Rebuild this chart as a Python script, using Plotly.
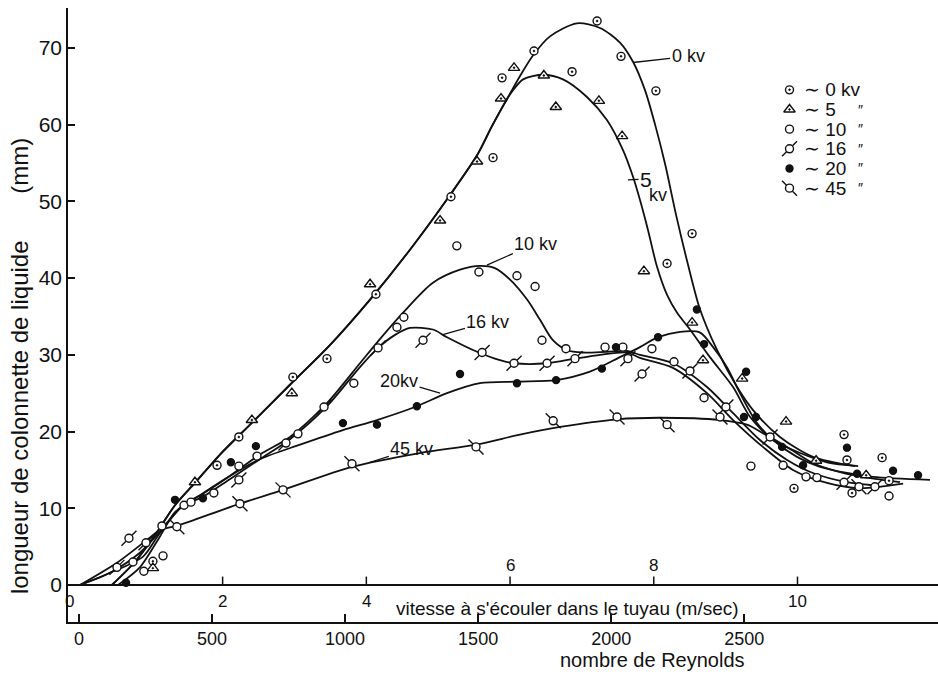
import plotly.graph_objects as go

FONT = "Liberation Sans"
INK = "#111111"

# ---------------- axes ----------------
RE_TICKS = [0, 500, 1000, 1500, 2000, 2500]
MM_TICKS = [0, 10, 20, 30, 40, 50, 60, 70]
VEL_TICKS = [0, 2, 4, 6, 8, 10]
VEL_LABEL_ABOVE = [False, False, False, True, True, False]
VEL_TO_RE = 270  # Reynolds number per m/s of velocity

# ---------------- measured points (Reynolds, mm) ----------------
re_0kv = [278, 519, 601, 804, 932, 1116, 1398, 1556, 1590, 1710, 1853, 1947, 2037, 2168,
          2210, 2304, 2687, 2875, 2886, 2905, 3018, 3044]
mm_0kv = [3.1, 15.6, 19.3, 27.1, 29.5, 37.9, 50.6, 55.7, 66.1, 69.6, 66.9, 73.5, 68.9, 64.4,
          41.9, 45.8, 12.6, 19.6, 16.3, 12.0, 16.6, 13.6]

re_5kv = [278, 436, 650, 800, 1094, 1357, 1496, 1586, 1635, 1747, 1792, 1954, 2041, 2123,
          2304, 2345, 2492, 2657, 2770, 2958]
mm_5kv = [2.2, 13.4, 21.5, 25.0, 39.2, 47.5, 55.2, 63.4, 67.4, 66.4, 62.3, 63.1, 58.5, 40.9,
          34.2, 29.3, 26.9, 21.3, 16.2, 14.3]

re_10kv = [203, 244, 312, 316, 395, 421, 507, 601, 669, 823, 1033, 1195, 1221, 1420, 1503,
           1646, 1714, 1740, 1830, 1977, 2044, 2153, 2236, 2349, 2525, 2646, 2732, 2773, 3044]
mm_10kv = [3.0, 1.8, 7.7, 3.8, 10.4, 10.8, 12.0, 15.5, 16.8, 19.7, 26.3, 33.6, 34.9, 44.2, 40.8,
           40.3, 38.9, 31.9, 30.8, 31.0, 31.0, 30.8, 29.1, 24.4, 15.5, 15.6, 14.1, 14.0, 11.6]

re_16kv = [143, 188, 252, 601, 778, 921, 1124, 1293, 1515, 1635, 1759, 1864, 2063, 2116,
           2296, 2431, 2597, 2875, 2991]
mm_16kv = [2.3, 6.1, 5.5, 13.7, 18.5, 23.2, 30.9, 31.9, 30.3, 28.9, 28.9, 29.5, 29.5, 27.5,
           27.9, 23.2, 19.3, 13.4, 12.8]

re_20kv = [177, 361, 466, 571, 665, 992, 1120, 1270, 1432, 1646, 1793, 1965, 2018, 2176,
           2322, 2349, 2507, 2499, 2544, 2642, 2721, 2886, 2924, 3059, 3153]
mm_20kv = [0.3, 11.1, 11.3, 16.0, 18.1, 21.1, 20.9, 23.3, 27.5, 26.3, 26.7, 28.2, 31.0, 32.3,
           35.9, 31.4, 27.8, 21.9, 21.9, 18.0, 15.6, 17.9, 14.5, 14.9, 14.3]

re_45kv = [368, 605, 767, 1026, 1492, 1782, 2022, 2210, 2409, 2931]
mm_45kv = [7.6, 10.6, 12.4, 15.8, 18.0, 21.4, 21.9, 20.9, 21.9, 12.8]

# ---------------- hand-drawn curves (Reynolds, mm) ----------------
c_re_0kv = [124, 210, 286, 361, 436, 530, 643, 793, 944, 1094, 1244, 1394, 1496, 1552, 1608, 1657,
            1706, 1770, 1871, 1958, 2033, 2082, 2127, 2165, 2203, 2244, 2289, 2334, 2398, 2473,
            2533, 2634, 2758, 2916]
c_mm_0kv = [0, 3.0, 6.5, 10.4, 13.3, 17.0, 20.9, 26.1, 31.3, 37.2, 43.7, 50.8, 56.0, 59.8, 63.3, 66.3,
            69.0, 71.5, 73.2, 72.6, 70.7, 68.2, 64.5, 60.0, 54.8, 48.2, 41.7, 35.9, 30.6, 25.8,
            22.8, 19.3, 16.7, 15.5]

c_re_5kv = [124, 210, 286, 361, 436, 530, 643, 793, 944, 1094, 1244, 1394, 1496, 1552, 1608, 1627,
            1669, 1744, 1819, 1909, 1984, 2044, 2082, 2108, 2138, 2172, 2210, 2247, 2296, 2371,
            2458, 2522, 2608, 2710, 2811, 2928]
c_mm_5kv = [0, 3.0, 6.5, 10.4, 13.3, 17.0, 20.9, 26.1, 31.3, 37.2, 43.7, 50.8, 56.0, 59.8, 63.3, 64.3,
            65.9, 66.5, 65.9, 63.6, 60.6, 56.7, 53.2, 50.2, 46.3, 41.5, 37.8, 35.5, 33.3, 29.7,
            25.8, 21.9, 18.9, 17.2, 16.0, 15.5]

c_re_10kv = [4, 117, 229, 316, 391, 466, 567, 680, 793, 932, 1056, 1120, 1218, 1330, 1432, 1507,
             1563, 1620, 1684, 1732, 1781, 1834, 1894, 1984, 2059, 2108, 2232, 2360, 2458, 2559,
             2661, 2758, 2886, 2984]
c_mm_10kv = [0, 1.6, 4.2, 7.4, 10.4, 11.9, 14.2, 17.0, 19.3, 23.7, 28.9, 31.6, 35.5, 39.4, 41.1,
             41.6, 41.3, 39.8, 37.2, 34.6, 31.9, 30.6, 30.3, 30.4, 30.5, 30.0, 28.9, 25.8, 22.4,
             18.9, 16.3, 14.6, 13.4, 13.0]

c_re_16kv = [4, 143, 256, 316, 391, 466, 567, 680, 793, 932, 1056, 1124, 1188, 1244, 1330, 1383,
             1496, 1582, 1635, 1759, 1864, 1958, 2059, 2108, 2232, 2360, 2458, 2570, 2683, 2811,
             2935, 3097]
c_mm_16kv = [0, 2.9, 5.9, 7.6, 10.3, 11.5, 13.8, 16.4, 19.0, 23.3, 28.4, 30.9, 32.6, 33.5, 33.3,
             32.3, 30.4, 29.3, 28.9, 28.9, 29.5, 30.0, 30.3, 29.6, 28.3, 25.0, 21.5, 18.0, 15.0,
             13.3, 12.6, 13.2]

c_re_20kv = [147, 229, 304, 361, 455, 567, 680, 831, 992, 1120, 1270, 1383, 1507, 1646, 1793,
             1920, 2033, 2108, 2176, 2259, 2334, 2383, 2435, 2484, 2548, 2608, 2698, 2785, 2886,
             2984, 3198]
c_mm_20kv = [0, 2.3, 6.3, 9.5, 11.7, 14.2, 16.4, 18.3, 20.2, 21.5, 23.3, 25.0, 26.3, 26.5, 26.7,
             27.8, 29.7, 31.0, 32.3, 33.0, 32.9, 31.0, 28.4, 25.0, 21.1, 18.9, 16.7, 15.4, 14.6,
             14.1, 13.7]

c_re_45kv = [4, 117, 241, 316, 368, 605, 767, 1026, 1281, 1492, 1657, 1808, 2022, 2183, 2409,
             2510, 2570, 2661, 2758, 2871, 2961, 3085]
c_mm_45kv = [0, 1.6, 3.7, 7.2, 7.7, 10.6, 12.4, 15.4, 17.2, 18.3, 19.6, 20.6, 21.6, 21.8, 21.5,
             20.9, 19.8, 18.0, 15.9, 14.6, 14.0, 13.4]

# ---------------- curve labels: (text, curve point, text position) ----------------
label_text = ["0 kv", "5", "10 kv", "16 kv", "20kv", "45 kv"]
label_size = [18, 21, 18, 18, 18, 18]
label_pt_re = [2082, 2063, 1533, 1364, 1357, 1094]
label_pt_mm = [68.1, 52.8, 41.7, 32.6, 25.0, 16.0]
label_tx_re = [2289, 2131, 1717, 1537, 1203, 1251]
label_tx_mm = [68.9, 52.9, 44.5, 34.3, 26.6, 17.7]

# ---------------- legend ----------------
legend_text = ["\u223c 0 kv", "\u223c 5", "\u223c 10", "\u223c 16", "\u223c 20", "\u223c 45"]
legend_ditto = ["", "\u2033", "\u2033", "\u2033", "\u2033", "\u2033"]

series = [
    (re_0kv, mm_0kv, c_re_0kv, c_mm_0kv, dict(symbol="circle-dot", size=8, color="white"), None),
    (re_5kv, mm_5kv, c_re_5kv, c_mm_5kv, dict(symbol="triangle-up-dot", size=10, color="white"), None),
    (re_10kv, mm_10kv, c_re_10kv, c_mm_10kv, dict(symbol="circle", size=8, color="white"), None),
    (re_16kv, mm_16kv, c_re_16kv, c_mm_16kv, dict(symbol="circle", size=8, color="white"), "line-ne"),
    (re_20kv, mm_20kv, c_re_20kv, c_mm_20kv, dict(symbol="circle", size=7, color=INK), None),
    (re_45kv, mm_45kv, c_re_45kv, c_mm_45kv, dict(symbol="circle", size=8, color="white"), "line-nw"),
]

fig = go.Figure()

# curves
for xs, ys, cx, cy, mk, tail in series:
    fig.add_trace(go.Scatter(x=cx, y=cy, mode="lines", line=dict(color=INK, width=1.8, shape="spline", smoothing=0.8),
                             hoverinfo="skip", showlegend=False))


def add_markers(x, y, mk, tail, xaxis="x", yaxis="y"):
    if tail:
        fig.add_trace(go.Scatter(x=x, y=y, mode="markers", xaxis=xaxis, yaxis=yaxis, showlegend=False,
                                 marker=dict(symbol=tail, size=15, line=dict(color=INK, width=1.4))))
    fig.add_trace(go.Scatter(x=x, y=y, mode="markers", xaxis=xaxis, yaxis=yaxis, showlegend=False,
                             marker=dict(symbol=mk["symbol"], size=mk["size"], color=mk["color"],
                                         line=dict(color=INK, width=1.4))))


for xs, ys, cx, cy, mk, tail in series:
    add_markers(xs, ys, mk, tail)

# legend markers in an inset axis
rows = list(range(len(series)))
for i, (xs, ys, cx, cy, mk, tail) in enumerate(series):
    add_markers([0.15], [rows[i]], mk, tail, "x3", "y3")

annotations = []
for i in rows:
    annotations.append(dict(x=0.25, y=rows[i], xref="x3", yref="y3", text=legend_text[i], showarrow=False,
                            xanchor="left", yanchor="middle", font=dict(size=19, family=FONT, color=INK)))
    if legend_ditto[i]:
        annotations.append(dict(x=0.66, y=rows[i], xref="x3", yref="y3", text=legend_ditto[i], showarrow=False,
                                xanchor="left", yanchor="middle", font=dict(size=14, family=FONT, color=INK)))

# curve labels with leader lines
for t, sz, px, py, tx, ty in zip(label_text, label_size, label_pt_re, label_pt_mm, label_tx_re, label_tx_mm):
    annotations.append(dict(x=px, y=py, ax=tx, ay=ty, axref="x", ayref="y", xref="x", yref="y", text=t,
                            showarrow=True, arrowhead=0, arrowwidth=1.3, arrowcolor=INK,
                            font=dict(size=sz, family=FONT, color=INK)))
annotations.append(dict(x=label_tx_re[1] + 45, y=label_tx_mm[1] - 2.1, xref="x", yref="y", text="kv",
                        showarrow=False, xanchor="center", yanchor="middle",
                        font=dict(size=18, family=FONT, color=INK)))

# velocity scale drawn along y = 0
shapes = []
for v, above in zip(VEL_TICKS, VEL_LABEL_ABOVE):
    if v > 0:
        shapes.append(dict(type="line", xref="x", yref="y", x0=v * VEL_TO_RE, x1=v * VEL_TO_RE, y0=0, y1=1.1,
                           line=dict(color=INK, width=1.5)))
    annotations.append(dict(x=v * VEL_TO_RE, y=2.5 if above else -2.1, xref="x", yref="y", text=str(v),
                            showarrow=False, xshift=-9 if v == 0 else 0, xanchor="center", yanchor="middle",
                            font=dict(size=17, family=FONT, color=INK)))

annotations.append(dict(x=1834, y=-3.0, xref="x", yref="y", text="vitesse à s'écouler dans le tuyau (m/sec)",
                        showarrow=False, xanchor="center", yanchor="middle",
                        font=dict(size=19, family=FONT, color=INK)))
annotations.append(dict(x=0.672, y=-0.062, xref="paper", yref="paper", text="nombre de Reynolds",
                        showarrow=False, xanchor="center", yanchor="middle",
                        font=dict(size=20, family=FONT, color=INK)))
annotations.append(dict(x=-0.055, y=0.417, xref="paper", yref="paper",
                        text="longueur de colonnette de liquide" + "\u00a0" * 7 + "(mm)",
                        textangle=-90, showarrow=False, xanchor="center", yanchor="middle",
                        font=dict(size=24, family=FONT, color=INK)))

fig.update_layout(
    width=938, height=675,
    margin=dict(l=68, r=0, t=8, b=53),
    paper_bgcolor="white", plot_bgcolor="white",
    showlegend=False,
    font=dict(family=FONT, color=INK),
    xaxis=dict(range=[-41, 3228], tickvals=RE_TICKS, ticks="inside", ticklen=8, tickwidth=1.5, tickcolor=INK,
               showline=True, linecolor=INK, linewidth=1.6, showgrid=False, zeroline=False,
               tickfont=dict(size=18, family=FONT, color=INK)),
    yaxis=dict(range=[-4.82, 75.2], tickvals=MM_TICKS, ticks="inside", ticklen=7, tickwidth=1.5, tickcolor=INK,
               showline=True, linecolor=INK, linewidth=1.6, showgrid=False, zeroline=True,
               zerolinecolor=INK, zerolinewidth=1.6, tickfont=dict(size=21, family=FONT, color=INK)),
    xaxis3=dict(domain=[0.8069, 0.9563], range=[0, 1], visible=False, anchor="y3"),
    yaxis3=dict(domain=[0.6906, 0.8827], range=[5.5, -0.5], visible=False, anchor="x3"),
    annotations=annotations,
    shapes=shapes,
)

fig.write_html("out.html")
